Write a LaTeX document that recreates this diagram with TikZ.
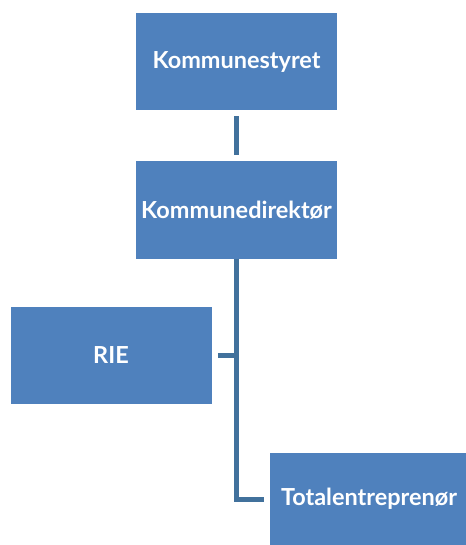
\documentclass[tikz,border=0pt]{standalone}
\usepackage{fontspec}
\setmainfont{Lato}
\usetikzlibrary{positioning}
\definecolor{boxblue}{HTML}{4F81BD}
\definecolor{lineblue}{HTML}{41719C}
\tikzset{
  orgbox/.style={rectangle, fill=boxblue, text=white, font=\bfseries\fontsize{17.6}{20}\selectfont,
    minimum width=150.75pt, minimum height=72.75pt, inner sep=0pt},
  orgline/.style={draw=lineblue, line width=3.75pt},
}

\begin{document}
\begin{tikzpicture}[x=0.75pt, y=-0.75pt]
  \useasboundingbox (0,0) rectangle (466,545);

  \node[orgbox] (Styret) at (236.5,61.5) {Kommunestyret};
  \node[orgbox] (Dir) at (236.5,210) {Kommunedirektør};
  \node[orgbox] (Rie) at (111,355) {RIE};
  \node[orgbox, minimum width=148.5pt, minimum height=69pt] (Total) at (369,499) {Totalentreprenør};

  \draw[orgline, shorten <=4.5pt, shorten >=4.5pt] (Styret) -- (Dir);
  \draw[orgline, shorten >=4.5pt] (Dir.south) |- (Total.west);
  \draw[orgline, shorten <=4.5pt] (Rie.east) -- (Rie.east -| Dir.south);

\end{tikzpicture}
\end{document}
